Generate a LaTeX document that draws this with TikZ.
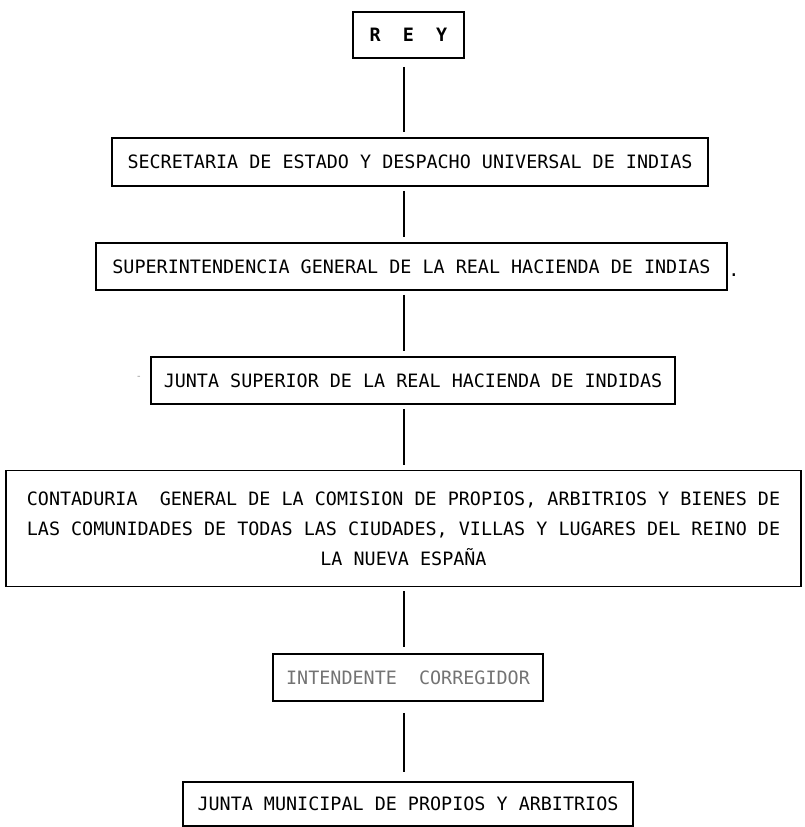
\documentclass[tikz,border=0pt]{standalone}
\usepackage{fontspec}
\setmonofont{DejaVu Sans Mono}
\usetikzlibrary{calc}
\tikzset{caja/.style={draw, line width=1.6pt, inner sep=0pt,
         font=\ttfamily\fontsize{18.4}{30}\selectfont},
         enlace/.style={line width=1.3pt, shorten <=4pt, shorten >=5pt}}

\begin{document}
\begin{tikzpicture}[x=1pt,y=-1pt]
\useasboundingbox (0,0) rectangle (804,827);
\coordinate (eje) at (404,0);

\node [caja, minimum width=111pt, minimum height=46pt, font=\ttfamily\bfseries\fontsize{18.4}{30}\selectfont] (rey) at (408.5,35) {R~~E~~Y};
\node [caja, minimum width=596pt, minimum height=48pt] (secretaria) at (410,162) {SECRETARIA DE ESTADO Y DESPACHO UNIVERSAL DE INDIAS};
\node [caja, minimum width=631pt, minimum height=47pt] (superintendencia) at (411.5,266.5) {SUPERINTENDENCIA GENERAL DE LA REAL HACIENDA DE INDIAS};
\node [caja, minimum width=524pt, minimum height=47pt] (juntasup) at (413,380.5) {JUNTA SUPERIOR DE LA REAL HACIENDA DE INDIDAS};
\node [caja, minimum width=795pt, minimum height=116pt, align=center] (contaduria) at (403.5,528.5) {CONTADURIA~~GENERAL DE LA COMISION DE PROPIOS, ARBITRIOS Y BIENES DE\\LAS COMUNIDADES DE TODAS LAS CIUDADES, VILLAS Y LUGARES DEL REINO DE\\LA NUEVA ESPAÑA};
\node [caja, minimum width=270pt, minimum height=47pt, text=black!55] (intendente) at (408,677.5) {INTENDENTE~~CORREGIDOR};
\node [caja, minimum width=450pt, minimum height=44pt] (municipal) at (408,804) {JUNTA MUNICIPAL DE PROPIOS Y ARBITRIOS};

\node [inner sep=0pt, font=\ttfamily\fontsize{18.4}{30}\selectfont] (punto) at (734,275) {.};
\node [inner sep=0pt, text=black!40, font=\ttfamily\fontsize{10}{12}\selectfont] (guion) at (139,378) {-};

\draw [enlace, shorten <=8pt] (rey.south -| eje) -- (secretaria.north -| eje);
\draw [enlace] (secretaria.south -| eje) -- (superintendencia.north -| eje);
\draw [enlace] (superintendencia.south -| eje) -- (juntasup.north -| eje);
\draw [enlace] (juntasup.south -| eje) -- (contaduria.north -| eje);
\draw [enlace, shorten >=6pt] (contaduria.south -| eje) -- (intendente.north -| eje);
\draw [enlace, shorten <=11pt, shorten >=9pt] (intendente.south -| eje) -- (municipal.north -| eje);
\end{tikzpicture}
\end{document}
